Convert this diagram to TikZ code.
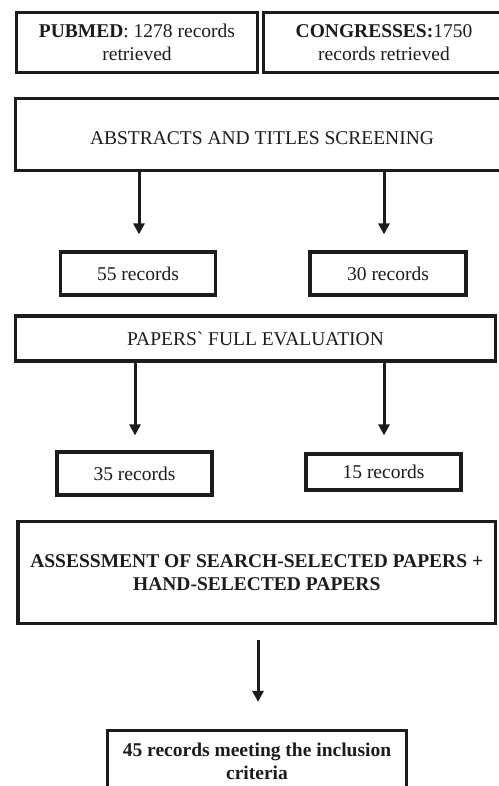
\documentclass[tikz,border=0pt]{standalone}
\usepackage{fontspec}
\setmainfont{Liberation Serif}
\usetikzlibrary{arrows.meta}
\definecolor{ink}{HTML}{1C1C1C}
\tikzset{
  box/.style={draw=ink, line width=3.2pt, inner sep=0pt, align=center, text=ink,
    font=\fontsize{19.5}{22.8}\selectfont},
  boxtext/.style={inner sep=0pt, align=center, text=ink, font=\fontsize{19.5}{22.8}\selectfont},
  arr/.style={draw=ink, line width=3pt, -{Triangle[width=11pt,length=11pt]}},
}
\begin{document}
\begin{tikzpicture}[x=1pt,y=-1pt]
\useasboundingbox (0,0) rectangle (498,786);
\fill[white] (0,0) rectangle (498,786);
\node[box, minimum width=241pt, minimum height=60pt] (pub) at (137,42.5)
  {\textbf{PUBMED}: 1278 records\\retrieved};
\node[box, minimum width=241pt, minimum height=60pt] (cong) at (384,42.5)
  {\textbf{CONGRESSES:}1750\\records retrieved};
\node[box, minimum width=493pt, minimum height=72pt] (abs) at (262,134.5) {};
\node[boxtext] (abstxt) at ([yshift=-3.5pt]abs.center) {ABSTRACTS AND TITLES SCREENING};
\node[box, minimum width=155pt, minimum height=43pt] (n55) at (138,273.5) {55 records};
\node[box, minimum width=156pt, minimum height=43pt] (n30) at (388,273.5) {30 records};
\node[box, minimum width=480pt, minimum height=45pt] (pap) at (255.5,338.5)
  {PAPERS\textasciigrave{} FULL EVALUATION};
\node[box, minimum width=155pt, minimum height=43pt] (n35) at (134.5,473.5) {35 records};
\node[box, minimum width=155pt, minimum height=36pt] (n15) at (383.5,472) {15 records};
\node[box, minimum width=477.5pt, minimum height=102pt] (ass) at (256.75,572.5)
  {\bfseries ASSESSMENT OF SEARCH-SELECTED PAPERS +\\\bfseries HAND-SELECTED PAPERS};
\node[box, minimum width=299pt, minimum height=62pt] (fin) at (257,761.5)
  {\bfseries 45 records meeting the inclusion\\\bfseries criteria};
\draw[arr, shorten >=16pt] (abs.south -| 139,0) -- (n55.north -| 139,0);
\draw[arr, shorten >=16pt] (abs.south -| 384,0) -- (n30.north -| 384,0);
\draw[arr, shorten >=15pt] (pap.south -| 135,0) -- (n35.north -| 135,0);
\draw[arr, shorten >=17pt] (pap.south -| 384,0) -- (n15.north -| 384,0);
\draw[arr, shorten <=15pt, shorten >=27pt] (ass.south -| 258,0) -- (fin.north -| 258,0);
\end{tikzpicture}
\end{document}
